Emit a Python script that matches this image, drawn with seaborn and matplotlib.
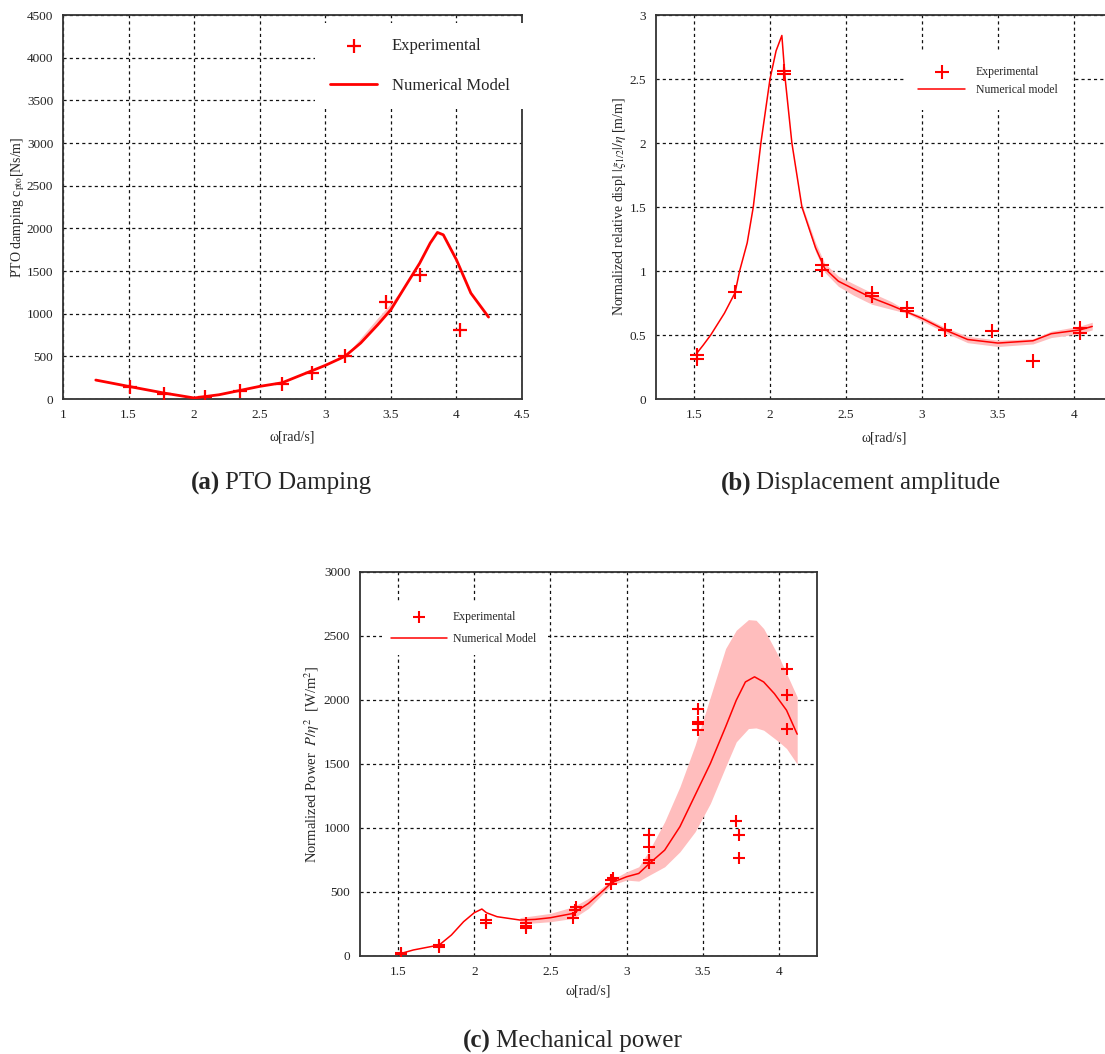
import numpy as np
import matplotlib
matplotlib.use("Agg")
import matplotlib.pyplot as plt
import seaborn as sns

# ---- (a) PTO damping ----
xa_exp = [1.51, 1.77, 2.08, 2.35, 2.67, 2.90, 3.15, 3.46, 3.72, 4.03]
ya_exp = [137, 59, 20, 90, 176, 304, 500, 1132, 1448, 804]

xa_num = [1.25, 1.50, 1.77, 2.00, 2.19, 2.50, 2.67, 3.00, 3.15, 3.27, 3.40, 3.50,
          3.61, 3.72, 3.80, 3.855, 3.90, 4.00, 4.11, 4.245]
ya_num = [222, 148, 70, 12, 50, 148, 190, 394, 500, 656, 870, 1046,
          1320, 1592, 1827, 1952, 1924, 1632, 1241, 960]

xa_band = [3.20, 3.30, 3.40, 3.50, 3.58]
ya_low = [565, 700, 870, 1046, 1240]
ya_high = [590, 770, 950, 1120, 1275]

# ---- (b) displacement amplitude ----
xb_exp = [1.52, 1.52, 1.77, 2.09, 2.09, 2.34, 2.34, 2.67, 2.67, 2.90, 2.90,
          3.15, 3.46, 3.73, 4.04, 4.04]
yb_exp = [0.346, 0.312, 0.835, 2.566, 2.540, 1.049, 1.010, 0.827, 0.801, 0.710, 0.684,
          0.541, 0.533, 0.294, 0.554, 0.515]

xb_num = [1.52, 1.56, 1.61, 1.70, 1.77, 1.80, 1.85, 1.89, 1.94, 2.00, 2.04, 2.078,
          2.10, 2.144, 2.21, 2.30, 2.36, 2.45, 2.55, 2.67, 2.80, 2.90, 3.00, 3.15,
          3.30, 3.50, 3.73, 3.85, 4.04, 4.12]
yb_num = [0.36, 0.42, 0.50, 0.67, 0.83, 1.00, 1.22, 1.50, 2.00, 2.50, 2.72, 2.84,
          2.50, 2.00, 1.50, 1.18, 1.02, 0.92, 0.86, 0.79, 0.73, 0.68, 0.63, 0.54,
          0.465, 0.437, 0.455, 0.51, 0.54, 0.567]

xb_band = [2.21, 2.30, 2.36, 2.45, 2.55, 2.67, 2.80, 2.90, 3.00, 3.15, 3.30, 3.50,
           3.73, 3.85, 4.04, 4.12]
yb_low = [1.49, 1.15, 0.99, 0.88, 0.81, 0.74, 0.70, 0.67, 0.61, 0.52, 0.44, 0.41,
          0.43, 0.48, 0.51, 0.54]
yb_high = [1.52, 1.22, 1.06, 0.96, 0.90, 0.83, 0.76, 0.69, 0.65, 0.56, 0.49, 0.46,
           0.47, 0.53, 0.57, 0.60]

# ---- (c) mechanical power ----
xc_exp = [1.52, 1.52, 1.77, 1.77, 2.08, 2.08, 2.34, 2.34, 2.34, 2.65, 2.66, 2.67,
          2.90, 2.90, 2.91, 3.15, 3.15, 3.15, 3.15, 3.47, 3.47, 3.47, 3.47,
          3.72, 3.74, 3.74, 4.05, 4.05, 4.05]
yc_exp = [12, 25, 73, 86, 281, 255, 255, 234, 216, 294, 359, 380,
          560, 590, 606, 945, 853, 749, 723, 1926, 1829, 1811, 1764,
          1057, 945, 768, 2240, 2037, 1772]

xc_num = [1.52, 1.60, 1.77, 1.85, 1.93, 2.00, 2.05, 2.08, 2.15, 2.30, 2.40, 2.50,
          2.65, 2.75, 2.85, 2.90, 3.00, 3.08, 3.15, 3.25, 3.35, 3.45, 3.55, 3.65,
          3.72, 3.78, 3.84, 3.90, 3.97, 4.05, 4.12]
yc_num = [20, 47, 86, 164, 268, 338, 367, 338, 307, 281, 286, 299,
          333, 411, 515, 572, 619, 645, 723, 827, 1010, 1257, 1504, 1790,
          1998, 2141, 2181, 2141, 2050, 1920, 1733]

xc_band = [2.30, 2.50, 2.65, 2.75, 2.90, 3.00, 3.08, 3.15, 3.25, 3.35, 3.45, 3.55,
           3.65, 3.72, 3.80, 3.85, 3.90, 4.00, 4.05, 4.12]
yc_low = [250, 268, 294, 372, 554, 593, 585, 632, 697, 814, 971, 1192,
          1478, 1673, 1777, 1782, 1764, 1673, 1621, 1499]
yc_high = [300, 333, 385, 450, 593, 658, 697, 827, 1049, 1322, 1647, 2024,
           2402, 2545, 2628, 2623, 2558, 2337, 2207, 2024]

xa_ticks = [1, 1.5, 2, 2.5, 3, 3.5, 4, 4.5]
xa_labels = ["1", "1.5", "2", "2.5", "3", "3.5", "4", "4.5"]
ya_ticks = [0, 500, 1000, 1500, 2000, 2500, 3000, 3500, 4000, 4500]
xbc_ticks = [1.5, 2, 2.5, 3, 3.5, 4]
xbc_labels = ["1.5", "2", "2.5", "3", "3.5", "4"]
yb_ticks = [0, 0.5, 1, 1.5, 2, 2.5, 3]
yb_labels = ["0", "0.5", "1", "1.5", "2", "2.5", "3"]
yc_ticks = [0, 500, 1000, 1500, 2000, 2500, 3000]

sns.set_style("white")
plt.rcParams["font.family"] = ["Liberation Serif", "DejaVu Serif"]
plt.rcParams["mathtext.fontset"] = "stix"

RED = "red"
BAND = "#ffbdbd"
W, H = 1105, 1054

fig = plt.figure(figsize=(W / 100, H / 100), dpi=100)


def add_ax(left, right, top, bottom):
    return fig.add_axes([left / W, 1 - bottom / H, (right - left) / W, (bottom - top) / H])


def style(ax):
    ax.grid(True, color="#111111", linestyle=(0, (2.5, 2.5)), linewidth=0.9)
    ax.set_axisbelow(True)
    for s in ax.spines.values():
        s.set_color("#333333")
        s.set_linewidth(1.3)
    ax.tick_params(direction="in", length=3, width=0.8, labelsize=9.5,
                   colors="#333333", labelcolor="#222222", pad=7)


ax_a = add_ax(63, 522, 15, 399)
ax_b = add_ax(656, 1112, 15, 399)
ax_c = add_ax(360, 817, 572, 956)

# (a)
ax_a.fill_between(xa_band, ya_low, ya_high, color=BAND, lw=0, zorder=2)
sns.scatterplot(x=xa_exp, y=ya_exp, marker="+", s=110, linewidth=1.6, color=RED,
                ax=ax_a, label="Experimental", zorder=4)
sns.lineplot(x=xa_num, y=ya_num, color=RED, lw=2, estimator=None, ax=ax_a,
             label="Numerical Model", zorder=3)
ax_a.set_xlim(1, 4.5)
ax_a.set_ylim(0, 4500)
ax_a.set_xticks(xa_ticks)
ax_a.set_xticklabels(xa_labels)
ax_a.set_yticks(ya_ticks)
ax_a.set_xlabel("ω[rad/s]", fontsize=10, labelpad=7)
ax_a.set_ylabel(r"PTO damping c$_{\rm pto}$[Ns/m]", fontsize=10, labelpad=0)
style(ax_a)
ax_a.legend(loc="upper left", bbox_to_anchor=((307 - 63) / 459, 1.0), fontsize=12,
            frameon=True, facecolor="white", edgecolor="none", framealpha=1,
            fancybox=False, borderpad=0.9, labelspacing=1.4, handlelength=2.8,
            handletextpad=0.9)

# (b)
ax_b.fill_between(xb_band, yb_low, yb_high, color=BAND, lw=0, zorder=2)
sns.scatterplot(x=xb_exp, y=yb_exp, marker="+", s=90, linewidth=1.5, color=RED,
                ax=ax_b, label="Experimental", zorder=4)
sns.lineplot(x=xb_num, y=yb_num, color=RED, lw=1.1, estimator=None, ax=ax_b,
             label="Numerical model", zorder=3)
ax_b.set_xlim(1.25, 4.25)
ax_b.set_ylim(0, 3)
ax_b.set_xticks(xbc_ticks)
ax_b.set_xticklabels(xbc_labels)
ax_b.set_yticks(yb_ticks)
ax_b.set_yticklabels(yb_labels)
ax_b.set_ylabel(r"Normalized relative displ $|\xi_{1/2}|/\eta$ [m/m]", fontsize=10,
                labelpad=1)
style(ax_b)
ax_b.xaxis.set_label_coords((880 - 656) / 456, -0.085)
ax_b.set_xlabel("ω[rad/s]", fontsize=10)
ax_b.legend(loc="upper left", bbox_to_anchor=((898 - 656) / 456, (399 - 46) / 384),
            fontsize=8.5, frameon=True, facecolor="white", edgecolor="none",
            framealpha=1, fancybox=False, borderpad=1.2, labelspacing=0.5,
            handlelength=4.0, handletextpad=0.9)

# (c)
ax_c.fill_between(xc_band, yc_low, yc_high, color=BAND, lw=0, zorder=2)
sns.scatterplot(x=xc_exp, y=yc_exp, marker="+", s=85, linewidth=1.5, color=RED,
                ax=ax_c, label="Experimental", zorder=4)
sns.lineplot(x=xc_num, y=yc_num, color=RED, lw=1.1, estimator=None, ax=ax_c,
             label="Numerical Model", zorder=3)
ax_c.set_xlim(1.25, 4.25)
ax_c.set_ylim(0, 3000)
ax_c.set_xticks(xbc_ticks)
ax_c.set_xticklabels(xbc_labels)
ax_c.set_yticks(yc_ticks)
ax_c.set_xlabel("ω[rad/s]", fontsize=10, labelpad=5)
ax_c.set_ylabel(r"Normalized Power  $P/\eta^2$  [W/m$^2$]", fontsize=10.5, labelpad=1)
style(ax_c)
ax_c.legend(loc="upper left", bbox_to_anchor=((376 - 360) / 457, (956 - 596) / 384),
            fontsize=8.5, frameon=True, facecolor="white", edgecolor="none",
            framealpha=1, fancybox=False, borderpad=0.8, labelspacing=0.85,
            handlelength=4.7, handletextpad=0.5)

# captions
caps = [((220, 483), "(a)", "PTO Damping"),
        ((751, 483), "(b)", "Displacement amplitude"),
        ((491, 1041), "(c)", "Mechanical power")]
for (cx, cy), tag, txt in caps:
    fig.text(cx / W, 1 - cy / H, tag, ha="right", va="center", fontsize=18,
             fontweight="bold")
    fig.text((cx + 5) / W, 1 - cy / H, txt, ha="left", va="center", fontsize=18)

fig.savefig("out.png", dpi=100)
